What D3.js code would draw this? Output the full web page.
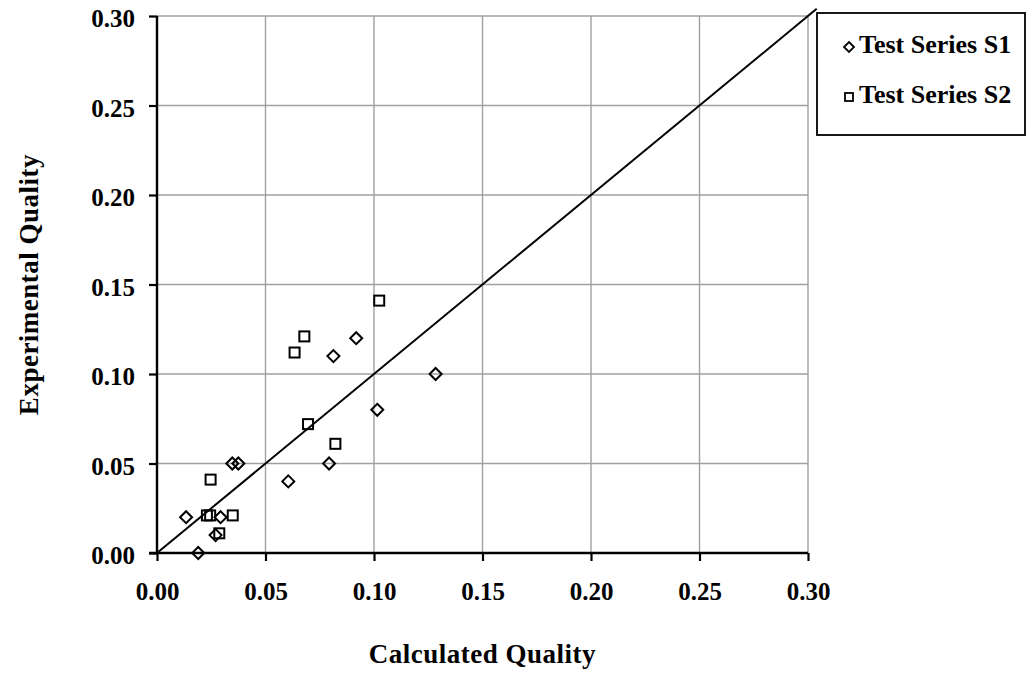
<!DOCTYPE html>
<html>
<head>
<meta charset="utf-8">
<script src="https://cdn.jsdelivr.net/npm/d3@7.9.0/dist/d3.min.js"></script>
<style>
  html, body { margin: 0; padding: 0; background: #fff; }
  svg text { font-family: "Liberation Serif", "Times New Roman", serif; font-weight: bold; fill: #000; }
</style>
</head>
<body>
<svg id="chart"></svg>
<script>
const width = 1026;
const height = 673;

// data
const s1Calc = [0.0347, 0.0375, 0.0605, 0.0134, 0.0293, 0.0270, 0.0190, 0.0918, 0.0813, 0.1284, 0.1015, 0.0793];
const s1Exp  = [0.050, 0.050, 0.040, 0.020, 0.020, 0.010, 0.000, 0.120, 0.110, 0.100, 0.080, 0.050];
const s2Calc = [0.0247, 0.0230, 0.0245, 0.0349, 0.0287, 0.1024, 0.0679, 0.0634, 0.0696, 0.0822];
const s2Exp  = [0.041, 0.021, 0.021, 0.021, 0.011, 0.141, 0.121, 0.112, 0.072, 0.061];
const tickValues = [0, 0.05, 0.10, 0.15, 0.20, 0.25, 0.30];
const seriesNames = ["Test Series S1", "Test Series S2"];
const lineEnd = 0.304;

const svg = d3.select("#chart").attr("width", width).attr("height", height);

const x = d3.scaleLinear().domain([0, 0.3]).range([157, 808]);
const y = d3.scaleLinear().domain([0, 0.3]).range([553, 16]);

// grid
const grid = svg.append("g");
grid.selectAll("line.gx").data(tickValues.slice(1)).join("line")
    .attr("x1", d => x(d)).attr("x2", d => x(d))
    .attr("y1", y(0)).attr("y2", y(0.3))
    .attr("stroke", "#a0a0a0").attr("stroke-width", 1.4);
grid.selectAll("line.gy").data(tickValues.slice(1)).join("line")
    .attr("x1", x(0)).attr("x2", x(0.3))
    .attr("y1", d => y(d)).attr("y2", d => y(d))
    .attr("stroke", "#a0a0a0").attr("stroke-width", 1.4);

// axes
const xAxis = d3.axisBottom(x).tickValues(tickValues).tickSize(8).tickPadding(21)
    .tickFormat(d3.format(".2f"));
const yAxis = d3.axisLeft(y).tickValues(tickValues).tickSize(8).tickPadding(14)
    .tickFormat(d3.format(".2f"));

const gx = svg.append("g").attr("transform", `translate(0,${y(0)})`).call(xAxis);
const gy = svg.append("g").attr("transform", `translate(${x(0)},0)`).call(yAxis);
[gx, gy].forEach(g => {
    g.select(".domain").attr("stroke", "#000").attr("stroke-width", 2.4);
    g.selectAll(".tick line").attr("stroke", "#000").attr("stroke-width", 2.2);
    g.selectAll(".tick text").style("font-size", "25px")
        .style("font-family", "'Liberation Serif', serif").style("font-weight", "bold");
});
gy.selectAll(".tick text").attr("dy", "0.42em");
gx.select(".domain").attr("d", `M${x(0) - 8},0H${x(0.3)}`);
gy.select(".domain").attr("d", `M0,${y(0)}V${y(0.3)}`);

// 1:1 line
svg.append("line")
    .attr("x1", x(0)).attr("y1", y(0))
    .attr("x2", x(lineEnd)).attr("y2", y(lineEnd))
    .attr("stroke", "#000").attr("stroke-width", 2);

const diamond = (cx, cy, r) => `M${cx},${cy - r}L${cx + r},${cy}L${cx},${cy + r}L${cx - r},${cy}Z`;

// series S1: diamonds
svg.append("g").selectAll("path").data(d3.range(s1Calc.length)).join("path")
    .attr("d", i => diamond(x(s1Calc[i]), y(s1Exp[i]), 6))
    .attr("fill", "none").attr("stroke", "#000").attr("stroke-width", 2);

// series S2: squares
svg.append("g").selectAll("rect").data(d3.range(s2Calc.length)).join("rect")
    .attr("x", i => x(s2Calc[i]) - 5).attr("y", i => y(s2Exp[i]) - 5)
    .attr("width", 10).attr("height", 10)
    .attr("fill", "none").attr("stroke", "#000").attr("stroke-width", 2);

// axis titles
svg.append("text")
    .attr("x", (x(0) + x(0.3)) / 2).attr("y", 663)
    .attr("text-anchor", "middle").style("font-size", "27px").style("letter-spacing", "0.5px")
    .text("Calculated Quality");
svg.append("text")
    .attr("transform", `translate(38,${(y(0) + y(0.3)) / 2}) rotate(-90)`)
    .attr("text-anchor", "middle").style("font-size", "27px").style("letter-spacing", "0.5px")
    .text("Experimental Quality");

// legend
const legend = svg.append("g");
legend.append("rect")
    .attr("x", 817).attr("y", 13).attr("width", 208).attr("height", 122)
    .attr("fill", "#fff").attr("stroke", "#000").attr("stroke-width", 1.8);
const rows = [47, 97];
legend.append("path")
    .attr("d", diamond(849, rows[0], 5))
    .attr("fill", "none").attr("stroke", "#000").attr("stroke-width", 1.8);
legend.append("rect")
    .attr("x", 845).attr("y", rows[1] - 4).attr("width", 8).attr("height", 8)
    .attr("fill", "none").attr("stroke", "#000").attr("stroke-width", 1.8);
legend.selectAll("text.lg").data(seriesNames).join("text")
    .attr("x", 859).attr("y", (d, i) => rows[i] + 6)
    .style("font-size", "26px")
    .text(d => d);
</script>
</body>
</html>
